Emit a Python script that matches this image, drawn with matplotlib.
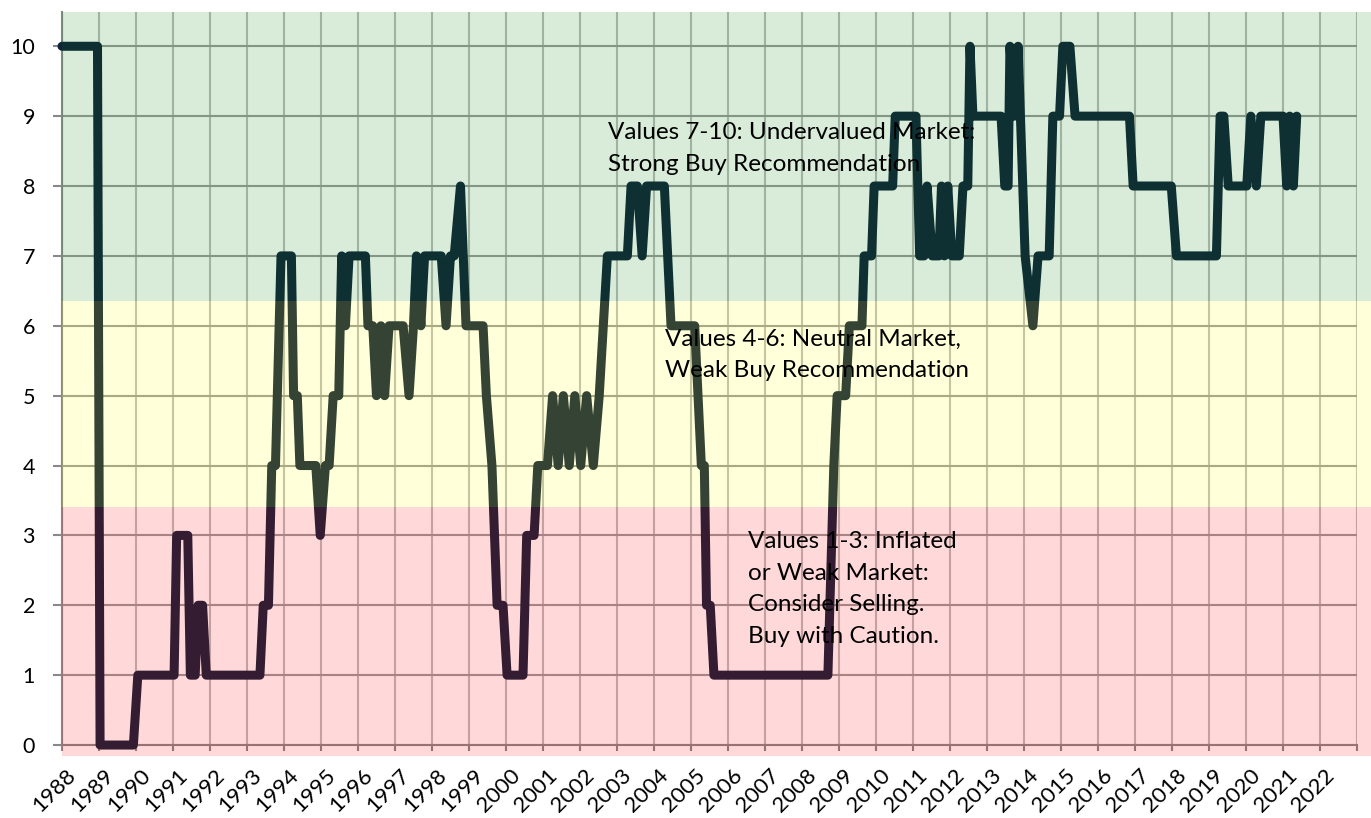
import matplotlib
matplotlib.use("Agg")
import matplotlib.pyplot as plt
import matplotlib.transforms as mtransforms
from matplotlib.patches import Rectangle

plt.rcParams['font.family'] = ['Lato', 'DejaVu Sans']

# break points of the score line (decimal years)
years = [
    1988.00, 1988.96, 1989.03, 1989.93, 1990.05, 1991.03, 1991.10, 1991.40,
    1991.47, 1991.60, 1991.68, 1991.80, 1991.90, 1993.35, 1993.44, 1993.58,
    1993.67, 1993.77, 1993.92, 1994.20, 1994.26, 1994.36, 1994.43, 1994.86,
    1994.98, 1995.12, 1995.22, 1995.33, 1995.48, 1995.56, 1995.66, 1995.76,
    1996.20, 1996.27, 1996.40, 1996.50, 1996.62, 1996.72, 1996.84, 1997.22,
    1997.38, 1997.50, 1997.58, 1997.70, 1997.80, 1998.25, 1998.38, 1998.50,
    1998.60, 1998.77, 1998.92, 1999.38, 1999.47, 1999.62, 1999.76, 1999.92,
    2000.03, 2000.46, 2000.56, 2000.76, 2000.86, 2001.12, 2001.26, 2001.41,
    2001.55, 2001.71, 2001.86, 2002.02, 2002.18, 2002.36, 2002.52, 2002.63,
    2002.74, 2003.28, 2003.38, 2003.55, 2003.68, 2003.80, 2004.28, 2004.46,
    2005.10, 2005.28, 2005.36, 2005.42, 2005.52, 2005.62, 2008.70, 2008.86,
    2008.95, 2009.18, 2009.28, 2009.62, 2009.68, 2009.88, 2009.95, 2010.45,
    2010.52, 2011.08, 2011.18, 2011.30, 2011.38, 2011.52, 2011.70, 2011.77,
    2011.85, 2011.94, 2012.05, 2012.25, 2012.35, 2012.48, 2012.54, 2012.62,
    2013.38, 2013.48, 2013.57, 2013.62, 2013.74, 2013.84, 2014.03, 2014.24,
    2014.38, 2014.68, 2014.78, 2014.96, 2015.05, 2015.24, 2015.38, 2016.85,
    2016.95, 2017.98, 2018.12, 2019.20, 2019.30, 2019.40, 2019.52, 2020.02,
    2020.13, 2020.28, 2020.40, 2021.00, 2021.10, 2021.18, 2021.28, 2021.37,
]
scores = [
    10, 10, 0, 0, 1, 1, 3, 3,
    1, 1, 2, 2, 1, 1, 2, 2,
    4, 4, 7, 7, 5, 5, 4, 4,
    3, 4, 4, 5, 5, 7, 6, 7,
    7, 6, 6, 5, 6, 5, 6, 6,
    5, 6, 7, 6, 7, 7, 6, 7,
    7, 8, 6, 6, 5, 4, 2, 2,
    1, 1, 3, 3, 4, 4, 5, 4,
    5, 4, 5, 4, 5, 4, 5, 6,
    7, 7, 8, 8, 7, 8, 8, 6,
    6, 4, 4, 2, 2, 1, 1, 4,
    5, 5, 6, 6, 7, 7, 8, 8,
    9, 9, 7, 7, 8, 7, 7, 8,
    7, 8, 7, 7, 8, 8, 10, 9,
    9, 8, 8, 10, 9, 10, 7, 6,
    7, 7, 9, 9, 10, 10, 9, 9,
    8, 8, 7, 7, 9, 9, 8, 8,
    9, 8, 9, 9, 8, 9, 8, 9,
]

tick_years = list(range(1988, 2023))

# shaded zones: (low, high, colour)
zone_low = [-0.15, 3.4, 6.35]
zone_high = [3.4, 6.35, 10.49]
zone_colors = ['#ff0000', '#ffff00', '#008000']

zone_text = [
    "Values 1-3: Inflated\nor Weak Market:\nConsider Selling.\nBuy with Caution.",
    "Values 4-6: Neutral Market,\nWeak Buy Recommendation",
    "Values 7-10: Undervalued Market:\nStrong Buy Recommendation",
]
text_x = [2006.54, 2004.30, 2002.76]
text_y = [3.06, 5.96, 8.91]

fig = plt.figure(figsize=(13.71, 8.18), dpi=100)
ax = fig.add_axes([0.0452, 0.0892, 0.9446, 0.8961])

ax.plot(years, scores, color='#11233c', lw=6.5, solid_joinstyle='round',
        solid_capstyle='round', zorder=2.8, clip_on=False)

for lo, hi, c in zip(zone_low, zone_high, zone_colors):
    ax.add_patch(Rectangle((1988, lo), 35.38, hi - lo, facecolor=c, alpha=0.15,
                           edgecolor='none', zorder=3, clip_on=False))

for t, x, y in zip(zone_text, text_x, text_y):
    ax.text(x, y, t, fontsize=17.5, va='top', ha='left', linespacing=1.62,
            color='black', zorder=5)

ax.set_xlim(1988, 2023)
ax.set_ylim(0, 10.49)
ax.set_xticks(list(range(1988, 2024)))
ax.set_xticklabels([])
ax.set_yticks(range(0, 11))
ax.set_axisbelow(True)
ax.xaxis.grid(True, color='#bcbcbc', lw=1.5)
ax.yaxis.grid(True, color='#9a9a9a', lw=1.5)

ax.tick_params(axis='x', length=4.5, width=1.5, color='#888888')
ax.tick_params(axis='y', length=6.5, width=1.5, color='#888888', labelsize=15.5, pad=13)

# rotated year labels, upper-right corner just below each tick
shift = mtransforms.ScaledTranslation(4 / 100, -20 / 100, fig.dpi_scale_trans)
for yr in tick_years:
    ax.text(yr, 0, str(yr), transform=ax.get_xaxis_transform() + shift,
            rotation=45, rotation_mode='anchor', ha='right', va='top',
            fontsize=16, clip_on=False)

ax.spines['top'].set_visible(False)
ax.spines['right'].set_visible(False)
for s in ['left', 'bottom']:
    ax.spines[s].set_color('#888888')
    ax.spines[s].set_linewidth(1.5)

fig.savefig('out.png', dpi=100)
